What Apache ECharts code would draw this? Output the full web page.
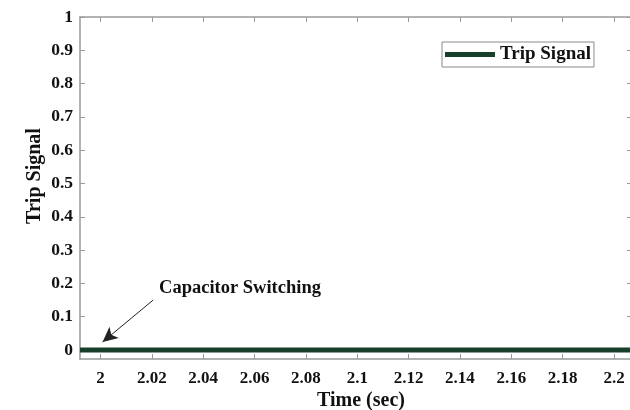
<!DOCTYPE html>
<html>
<head>
<meta charset="utf-8">
<script src="https://cdn.jsdelivr.net/npm/echarts@6/dist/echarts.min.js"></script>
<style>
  html, body { margin: 0; padding: 0; background: #ffffff; }
  #chart { width: 630px; height: 410px; }
</style>
</head>
<body>
<div id="chart"></div>
<script>
// Trip signal over time, sampled at the ends of the window
const timeValues = [1.992, 2.0, 2.1, 2.2, 2.207];
const tripValues = [0, 0, 0, 0, 0];

// Axis tick positions
const xTicks = [2, 2.02, 2.04, 2.06, 2.08, 2.1, 2.12, 2.14, 2.16, 2.18, 2.2];
const yTicks = [0, 0.1, 0.2, 0.3, 0.4, 0.5, 0.6, 0.7, 0.8, 0.9, 1];

// Annotation: label anchor and arrow tail/head (data coordinates)
const noteText = 'Capacitor Switching';
const noteAt = [2.0226, 0.186];
const arrowFrom = [2.0205, 0.15];
const arrowTo = [2.0008, 0.024];

const seriesName = 'Trip Signal';
const lineColor = '#173f2a';
const axisColor = '#9a9a9a';
const font = 'Liberation Serif';

const chart = echarts.init(document.getElementById('chart'), null, { renderer: 'canvas' });

const fmt = v => String(Math.round(v * 100) / 100);

const baseX = {
  type: 'value',
  min: 1.992,
  max: 2.207,
  splitLine: { show: false },
  axisLine: { show: true, onZero: false, lineStyle: { color: axisColor, width: 1.5 } },
  axisTick: { show: true, inside: true, length: 5, customValues: xTicks, lineStyle: { color: axisColor } }
};
const baseY = {
  type: 'value',
  min: -0.027,
  max: 1,
  splitLine: { show: false },
  axisLine: { show: true, onZero: false, lineStyle: { color: axisColor, width: 1.5 } },
  axisTick: { show: true, inside: true, length: 5, customValues: yTicks, lineStyle: { color: axisColor } }
};

chart.setOption({
  animation: false,
  backgroundColor: '#ffffff',
  grid: { left: 80, right: -2, top: 17, bottom: 51, containLabel: false, outerBoundsMode: 'none' },
  legend: {
    data: [seriesName],
    left: 442,
    top: 42,
    padding: [3, 3, 3, 3],
    borderColor: '#8a8a8a',
    borderWidth: 1,
    icon: 'rect',
    itemWidth: 50,
    itemHeight: 5,
    itemGap: 4,
    textStyle: { fontFamily: font, fontWeight: 'bold', fontSize: 19, color: '#111' }
  },
  xAxis: [
    Object.assign({}, baseX, {
      position: 'bottom',
      name: 'Time (sec)',
      nameLocation: 'middle',
      nameGap: 32,
      nameMoveOverlap: false,
      nameTextStyle: { fontFamily: font, fontWeight: 'bold', fontSize: 20, color: '#111', padding: [0, 0, 0, 10] },
      axisLabel: {
        show: true, margin: 11, customValues: xTicks, formatter: fmt,
        fontFamily: font, fontWeight: 'bold', fontSize: 17, color: '#111'
      }
    }),
    Object.assign({}, baseX, { position: 'top', axisLabel: { show: false } })
  ],
  yAxis: [
    Object.assign({}, baseY, {
      position: 'left',
      name: 'Trip Signal',
      nameLocation: 'middle',
      nameGap: 35,
      nameMoveOverlap: false,
      nameTextStyle: { fontFamily: font, fontWeight: 'bold', fontSize: 20, color: '#111', padding: [0, 0, 0, 24] },
      axisLabel: {
        show: true, margin: 7, customValues: yTicks, formatter: fmt,
        fontFamily: font, fontWeight: 'bold', fontSize: 17.5, color: '#111'
      }
    }),
    Object.assign({}, baseY, { position: 'right', axisLabel: { show: false } })
  ],
  series: [
    {
      name: seriesName,
      type: 'line',
      xAxisIndex: 0,
      yAxisIndex: 0,
      data: timeValues.map((t, i) => [t, tripValues[i]]),
      showSymbol: false,
      symbol: 'none',
      clip: true,
      lineStyle: { color: lineColor, width: 5 },
      itemStyle: { color: lineColor },
      markLine: {
        silent: true,
        symbol: ['none', 'arrow'],
        symbolSize: [11, 15],
        label: { show: false },
        lineStyle: { color: '#222', width: 1, type: 'solid' },
        data: [[{ coord: arrowFrom }, { coord: arrowTo }]]
      },
      markPoint: {
        silent: true,
        symbol: 'circle',
        symbolSize: 1,
        itemStyle: { color: 'rgba(0,0,0,0)' },
        label: {
          show: true,
          position: 'right',
          distance: 0,
          formatter: noteText,
          fontFamily: font,
          fontWeight: 'bold',
          fontSize: 18.5,
          color: '#111'
        },
        data: [{ coord: noteAt }]
      }
    }
  ]
});
</script>
</body>
</html>
